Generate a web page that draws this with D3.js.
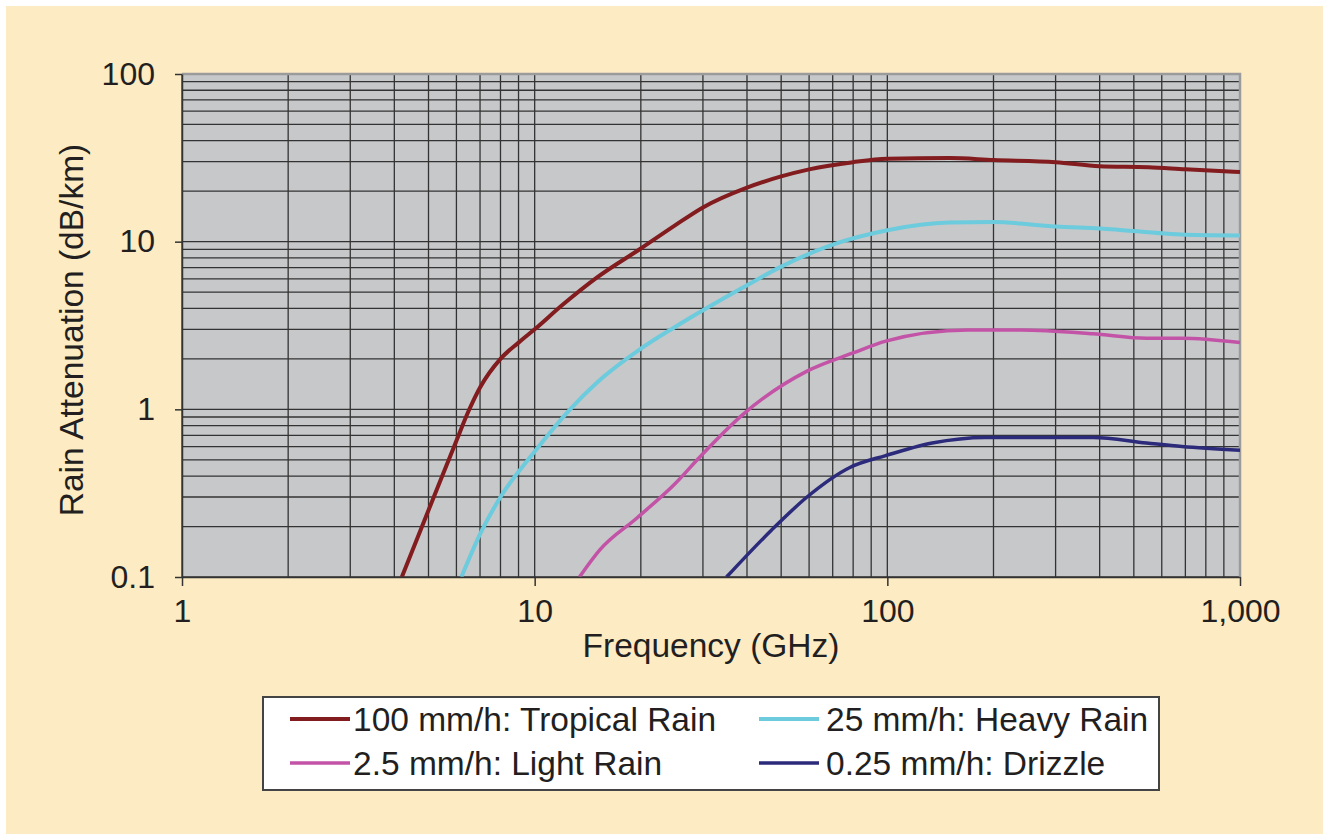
<!DOCTYPE html>
<html>
<head>
<meta charset="utf-8">
<script src="https://cdn.jsdelivr.net/npm/d3@7"></script>
<style>
  body { margin: 0; background: #fff; }
  svg { display: block; font-family: "Liberation Sans", Arial, sans-serif; }
  .axis text { fill: #231f20; font-size: 32px; }
  .axis path, .axis line { stroke: #333; stroke-width: 1.5; }
</style>
</head>
<body>
<div id="chart"></div>
<script>
// Series data (frequency in GHz, attenuation in dB/km)
const tropicalFreq = [4.2, 5, 6, 6.5, 7, 8, 9, 10, 12, 15, 20, 25, 30, 40, 50, 60, 80, 100, 150, 200, 300, 400, 550, 700, 1000];
const tropicalAtt  = [0.1, 0.25, 0.65, 0.98, 1.35, 2.0, 2.5, 3.0, 4.2, 6.1, 9.1, 12.5, 16, 21, 24.5, 27, 29.8, 31.2, 31.5, 30.7, 29.8, 28.2, 27.8, 27, 26];

const heavyFreq = [6.2, 7, 8, 10, 12.6, 15, 20, 25, 30, 40, 50, 70, 100, 150, 200, 300, 400, 700, 1000];
const heavyAtt  = [0.1, 0.18, 0.3, 0.56, 1.0, 1.44, 2.3, 3.1, 3.9, 5.5, 7.1, 9.6, 11.7, 13, 13.1, 12.3, 12, 11, 10.9];

const lightFreq = [13.4, 15.3, 19.5, 25, 29.4, 38.9, 59.2, 80, 99, 169, 240, 383, 543, 684, 1000];
const lightAtt  = [0.1, 0.145, 0.225, 0.36, 0.52, 0.93, 1.69, 2.17, 2.55, 2.97, 2.97, 2.82, 2.65, 2.65, 2.5];

const drizzleFreq = [35, 46.9, 59.2, 78.3, 98.9, 134, 190, 303, 383, 543, 684, 1000];
const drizzleAtt  = [0.1, 0.19, 0.30, 0.45, 0.53, 0.63, 0.68, 0.68, 0.68, 0.63, 0.60, 0.57];

const seriesNames  = ['100 mm/h: Tropical Rain', '25 mm/h: Heavy Rain', '2.5 mm/h: Light Rain', '0.25 mm/h: Drizzle'];
const seriesColors = ['#821c1f', '#6ccbdd', '#c353a6', '#2b2a7b'];
const seriesWidths = [4, 4, 3.5, 3.5];

const xTicks = [1, 10, 100, 1000];
const xTickLabels = ['1', '10', '100', '1,000'];
const yTicks = [0.1, 1, 10, 100];
const yTickLabels = ['0.1', '1', '10', '100'];

const series = [
    { name: seriesNames[0], freq: tropicalFreq, att: tropicalAtt },
    { name: seriesNames[1], freq: heavyFreq, att: heavyAtt },
    { name: seriesNames[2], freq: lightFreq, att: lightAtt },
    { name: seriesNames[3], freq: drizzleFreq, att: drizzleAtt }
].map((s, i) => ({
    name: s.name,
    color: seriesColors[i],
    width: seriesWidths[i],
    values: s.freq.map((f, j) => ({ f: f, a: s.att[j] }))
}));

const chart = {
    totalWidth: 1323,
    totalHeight: 834,
    margin: { top: 74, left: 182 },
    width: 1058,
    height: 503
};

const svg = d3.select('#chart')
    .append('svg')
    .attr('width', chart.totalWidth)
    .attr('height', chart.totalHeight);

// cream panel
svg.append('rect')
    .attr('x', 6).attr('y', 6)
    .attr('width', chart.totalWidth - 6)
    .attr('height', chart.totalHeight - 6)
    .attr('fill', '#fcebc3');

const xScale = d3.scaleLog().domain([1, 1000]).range([0, chart.width]);
const yScale = d3.scaleLog().domain([0.1, 100]).range([chart.height, 0]);

const plot = svg.append('g')
    .attr('transform', `translate(${chart.margin.left}, ${chart.margin.top})`);

plot.append('rect')
    .attr('width', chart.width)
    .attr('height', chart.height)
    .attr('fill', '#c7c8ca');

// grid
plot.append('g').classed('x-grid', true)
    .selectAll('line')
    .data(xScale.ticks())
    .join('line')
    .attr('x1', d => xScale(d)).attr('x2', d => xScale(d))
    .attr('y1', 0).attr('y2', chart.height)
    .attr('stroke', '#333')
    .attr('stroke-width', 1.3);

plot.append('g').classed('y-grid', true)
    .selectAll('line')
    .data(yScale.ticks())
    .join('line')
    .attr('x1', 0).attr('x2', chart.width)
    .attr('y1', d => yScale(d)).attr('y2', d => yScale(d))
    .attr('stroke', '#333')
    .attr('stroke-width', 1.3);

// light border top / right
plot.append('path')
    .attr('d', `M0,0H${chart.width}V${chart.height}`)
    .attr('fill', 'none')
    .attr('stroke', '#9b9b9b')
    .attr('stroke-width', 2.5);

// lines
svg.append('clipPath').attr('id', 'clip')
    .append('rect').attr('width', chart.width).attr('height', chart.height);

const line = d3.line()
    .curve(d3.curveMonotoneX)
    .x(d => xScale(d.f))
    .y(d => yScale(d.a));

plot.append('g')
    .classed('lines', true)
    .attr('clip-path', 'url(#clip)')
    .selectAll('path')
    .data(series)
    .join('path')
    .attr('fill', 'none')
    .attr('stroke', d => d.color)
    .attr('stroke-width', d => d.width)
    .attr('stroke-linejoin', 'round')
    .attr('d', d => line(d.values));

// axes
const xAxis = d3.axisBottom(xScale)
    .tickValues(xTicks)
    .tickFormat((d, i) => xTickLabels[i])
    .tickSizeInner(9)
    .tickSizeOuter(0)
    .tickPadding(13);

plot.append('g')
    .classed('axis', true)
    .attr('transform', `translate(0, ${chart.height})`)
    .call(xAxis);

const yAxis = d3.axisLeft(yScale)
    .tickValues(yTicks)
    .tickFormat((d, i) => yTickLabels[i])
    .tickSizeInner(7)
    .tickSizeOuter(0)
    .tickPadding(20);

plot.append('g')
    .classed('axis', true)
    .call(yAxis);

// axis titles
svg.append('text')
    .attr('x', 711).attr('y', 657)
    .attr('text-anchor', 'middle')
    .attr('font-size', 33.5)
    .attr('fill', '#231f20')
    .text('Frequency (GHz)');

svg.append('text')
    .attr('transform', 'translate(83, 330) rotate(-90)')
    .attr('text-anchor', 'middle')
    .attr('font-size', 33.5)
    .attr('fill', '#231f20')
    .text('Rain Attenuation (dB/km)');

// legend
const legend = svg.append('g').attr('transform', 'translate(263, 697)');
legend.append('rect')
    .attr('width', 896).attr('height', 93)
    .attr('fill', '#fff')
    .attr('stroke', '#444')
    .attr('stroke-width', 2);

const items = legend.selectAll('g.item')
    .data(series)
    .join('g')
    .classed('item', true)
    .attr('transform', (d, i) => `translate(${i % 2 === 0 ? 27 : 496}, ${i < 2 ? 22 : 66})`);

items.append('line')
    .attr('x1', 0).attr('x2', 60)
    .attr('stroke', d => d.color)
    .attr('stroke-width', d => d.width);

items.append('text')
    .attr('x', (d, i) => i % 2 === 0 ? 63 : 67)
    .attr('dy', '0.36em')
    .attr('font-size', 33.5)
    .attr('fill', '#231f20')
    .text(d => d.name);
</script>
</body>
</html>
